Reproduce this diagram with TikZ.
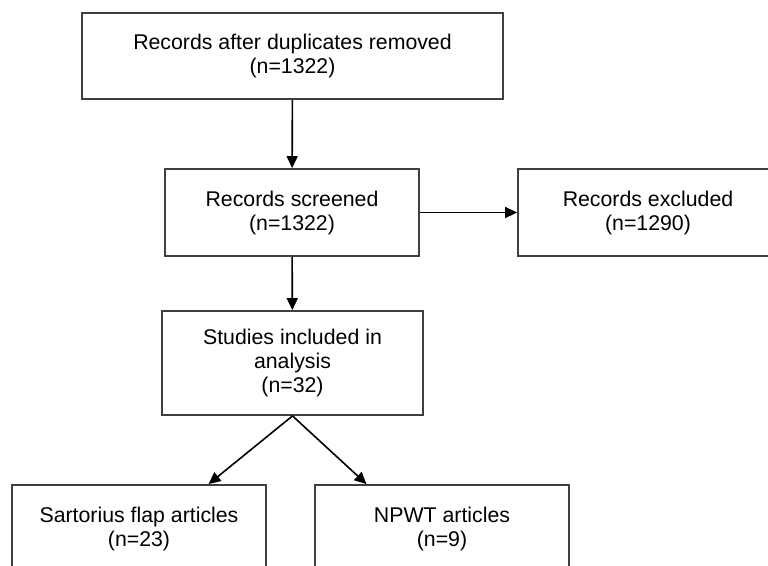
\documentclass[tikz,border=0pt]{standalone}
\usepackage{fontspec}
\setmainfont{Liberation Sans}
\usetikzlibrary{arrows.meta,calc}
\tikzstyle{process} = [rectangle, minimum width=254pt, minimum height=87pt, text centered, align=center, draw=black!75, line width=1.8pt, fill=white, inner sep=0pt, font=\fontsize{21.3}{24}\selectfont]
\tikzstyle{arrow}   = [line width=1.6pt, -{Triangle[length=12pt,width=11pt]}]

\begin{document}
\begin{tikzpicture}[x=1pt, y=-1pt] % 1 px = 1 pt
  \useasboundingbox (0,0) rectangle (768,565);
  \clip (0,0) rectangle (768,565);
  % 1. records after duplicates removed
  \node (dedup) [process, minimum width=421pt, minimum height=86pt] at (292.5,56) {Records after duplicates removed\\(n=1322)};
  % 2. records screened
  \node (screened) [process] at (292,212.5) {Records screened\\(n=1322)};
  % 3. records excluded (right side, cut at page edge)
  \node (excluded) [process, minimum width=260pt] at (648,212.5) {Records excluded\\(n=1290)};
  % 4. studies included
  \node (studies) [process, minimum width=261pt, minimum height=104pt] at (292.5,363) {Studies included in\\analysis\\(n=32)};
  % 5. the two groups (cut at page bottom)
  \node (sartorius) [process] at (139,528.5) {Sartorius flap articles\\(n=23)};
  \node (npwt) [process] at (442,528.5) {NPWT articles\\(n=9)};

  % arrows
  \draw [arrow] (dedup) -- (screened);                  % duplicates removed -> screened
  \draw [arrow] (screened) -- (excluded);               % screened -> excluded
  \draw [arrow] (screened) -- (studies);                % screened -> studies
  \draw [arrow] (studies.south) -- ($(sartorius.north west)!0.772!(sartorius.north east)$); % studies -> sartorius
  \draw [arrow] (studies.south) -- ($(npwt.north west)!0.205!(npwt.north east)$);           % studies -> npwt
\end{tikzpicture}
\end{document}
